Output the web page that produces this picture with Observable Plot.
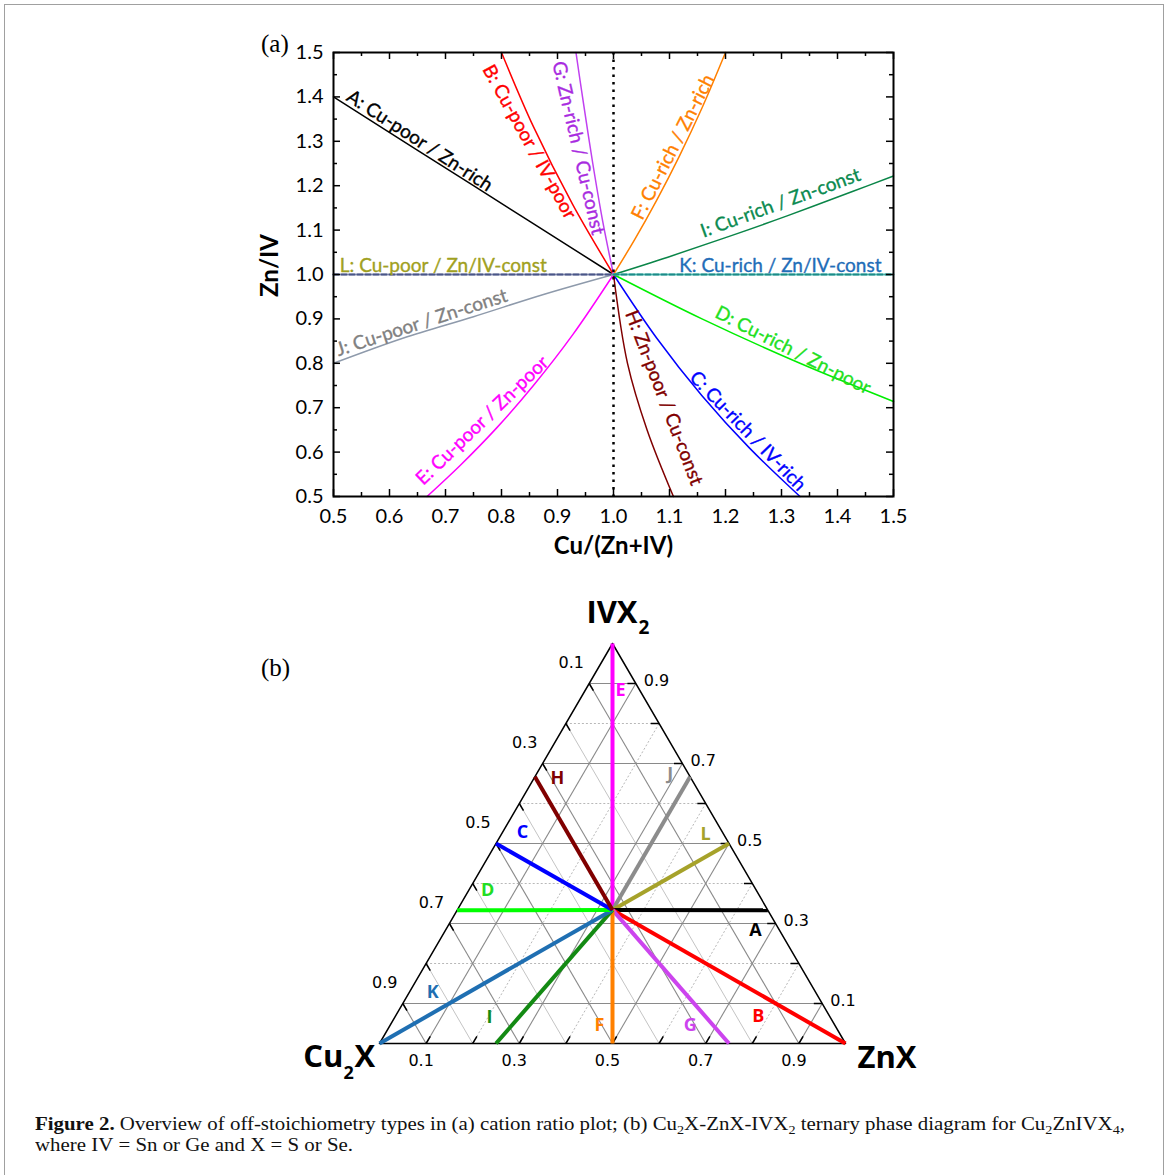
<!DOCTYPE html>
<html>
<head>
<meta charset="utf-8">
<script src="https://cdn.jsdelivr.net/npm/d3@7"></script>
<script src="https://cdn.jsdelivr.net/npm/@observablehq/plot@0.6"></script>
<style>
  html, body { margin: 0; padding: 0; background: #fff; }
  #page { position: relative; width: 1170px; height: 1175px; overflow: hidden; background: #fff; }
  #border { position: absolute; left: 4px; top: 4px; width: 1160px; height: 1200px; border: 1.5px solid #a0a0a0; box-sizing: border-box; }
  .abs { position: absolute; }
  .panel { font-family: "Liberation Serif", serif; font-size: 25px; line-height: 25px; color: #000; }
  .cap { font-family: "Liberation Serif", serif; font-size: 19px; line-height: 19px; color: #111; white-space: nowrap; transform-origin: 0 0; }
  .cap sub { font-size: 0.68em; vertical-align: -0.28em; line-height: 0; }
</style>
</head>
<body>
<div id="page">
  <div id="border"></div>
  <div id="plotA" class="abs" style="left:0;top:0"></div>
  <div id="plotB" class="abs" style="left:0;top:580px"></div>
  <div class="abs panel" style="left:261px;top:31px">(a)</div>
  <div class="abs panel" style="left:261px;top:655px">(b)</div>
  <div id="cap1" class="abs cap" style="left:35px;top:1114px"><b>Figure 2.</b> Overview of off-stoichiometry types in (a) cation ratio plot; (b) Cu<sub>2</sub>X-ZnX-IVX<sub>2</sub> ternary phase diagram for Cu<sub>2</sub>ZnIVX<sub>4</sub>,</div>
  <div id="cap2" class="abs cap" style="left:35px;top:1135px">where IV&nbsp;=&nbsp;Sn or Ge and X&nbsp;=&nbsp;S or Se.</div>
</div>
<script>
// ================= Panel (a): cation ratio plot data =================
const cuRatioTicks = [0.5, 0.6, 0.7, 0.8, 0.9, 1.0, 1.1, 1.2, 1.3, 1.4, 1.5];
const znRatioTicks = [0.5, 0.6, 0.7, 0.8, 0.9, 1.0, 1.1, 1.2, 1.3, 1.4, 1.5];
const minorTicks   = [0.55, 0.65, 0.75, 0.85, 0.95, 1.05, 1.15, 1.25, 1.35, 1.45];

const curveA_cu = [0.5, 0.75, 1.0];
const curveA_zn = [1.4, 1.2, 1.0];
const curveB_cu = [1.0, 0.927, 0.857, 0.8];
const curveB_zn = [1.0, 1.158, 1.333, 1.5];
const curveC_cu = [1.0, 1.077, 1.158, 1.243, 1.333];
const curveC_zn = [1.0, 0.857, 0.727, 0.609, 0.5];
const curveD_cu = [1.0, 1.158, 1.333, 1.5];
const curveD_zn = [1.0, 0.9, 0.8, 0.714];
const curveE_cu = [1.0, 0.927, 0.857, 0.791, 0.727, 0.667];
const curveE_zn = [1.0, 0.864, 0.75, 0.654, 0.571, 0.5];
const curveF_cu = [1.0, 1.038, 1.077, 1.117, 1.158, 1.2];
const curveF_zn = [1.0, 1.079, 1.167, 1.265, 1.375, 1.5];
const curveG_cu = [1.0, 0.981, 0.963, 0.945, 0.933];
const curveG_zn = [1.0, 1.118, 1.25, 1.397, 1.5];
const curveH_cu = [1.0, 1.025, 1.06, 1.107];
const curveH_zn = [1.0, 0.8, 0.65, 0.5];
const curveI_cu = [1.0, 1.097, 1.2, 1.31, 1.429, 1.5];
const curveI_zn = [1.0, 1.039, 1.083, 1.132, 1.188, 1.222];
const curveJ_cu = [0.5, 0.625, 0.75, 0.875, 1.0];
const curveJ_zn = [0.8, 0.857, 0.905, 0.955, 1.0];
const curveK_cu = [1.0, 1.5];
const curveK_zn = [1.0, 1.0];
const curveL_cu = [0.5, 1.0];
const curveL_zn = [1.0, 1.0];
const stoichCu = [1.0];

// curve labels, anchored next to their curves
const labelIds  = ["A", "B", "G", "F", "I", "K", "L", "J", "E", "H", "C", "D"];
const labelText = ["A: Cu-poor / Zn-rich", "B: Cu-poor / IV-poor", "G: Zn-rich / Cu-const", "F: Cu-rich / Zn-rich",
                   "I: Cu-rich / Zn-const", "K: Cu-rich / Zn/IV-const", "L: Cu-poor / Zn/IV-const", "J: Cu-poor / Zn-const",
                   "E: Cu-poor / Zn-poor", "H: Zn-poor / Cu-const", "C: Cu-rich / IV-rich", "D: Cu-rich / Zn-poor"];
const labelCu   = [0.645, 0.866, 0.955, 1.121, 1.307, 1.298, 0.696, 0.6625, 0.777, 1.075, 1.228, 1.313];
const labelZn   = [1.284, 1.310, 1.290, 1.278, 1.131, 1.0, 1.0, 0.872, 0.656, 0.715, 0.633, 0.811];

// ================= Panel (b): ternary diagram data =================
const ternIds     = ["A", "B", "C", "D", "E", "F", "G", "H", "I", "J", "K", "L"];
const ternEndCu2X = [0, 0, 0.5, 0.667, 0, 0.5, 0.25, 0.333, 0.75, 0, 1, 0];
const ternEndZnX  = [0.667, 1, 0, 0, 0, 0.5, 0.75, 0, 0.25, 0.333, 0, 0.5];
const ternEndIVX2 = [0.333, 0, 0.5, 0.333, 1, 0, 0, 0.667, 0, 0.667, 0, 0.5];
const ternCenter  = [0.333, 0.333, 0.334];
const ternGrid    = [0.1, 0.2, 0.3, 0.4, 0.5, 0.6, 0.7, 0.8, 0.9];
const ternTickLabels = [0.1, 0.3, 0.5, 0.7, 0.9];
const ternLabelX  = [0.807, 0.813, 0.307, 0.232, 0.517, 0.472, 0.667, 0.382, 0.236, 0.624, 0.114, 0.700];
const ternLabelY  = [0.2825, 0.0675, 0.5275, 0.3825, 0.8825, 0.045, 0.045, 0.6625, 0.065, 0.6725, 0.1275, 0.5225];

// ================= Styles =================
const lineColorA = {A:"#000000", B:"#ff0000", C:"#0000ff", D:"#00ee00", E:"#ff00ff", F:"#ff8000",
                    G:"#c040f0", H:"#800000", I:"#0a8548", J:"#8e9aab"};
const textColorA = {A:"#000000", B:"#ff0000", C:"#0000ff", D:"#1ee01e", E:"#ff00ff", F:"#ff8000",
                    G:"#a82be0", H:"#800000", I:"#0a8a50", J:"#808080", K:"#1f6db8", L:"#a0a020"};
const labelAngle = {A:33, B:61, G:77, F:-63, I:-20, K:0, L:0, J:-18, E:-44, H:69, C:46, D:27};
// +1: text lies on its "upper" side of the curve, -1: on its lower side
const labelSide  = {A:1, B:-1, G:-1, F:1, I:1, K:1, L:1, J:1, E:1, H:1, C:1, D:1};
const labelGap   = {A:3, B:3, G:3, F:3, I:8, K:3, L:3, J:3, E:3, H:3, C:3, D:3};
const ternColor = {A:"#000000", B:"#ff0000", C:"#0000ff", D:"#00ff00", E:"#ff00ff", F:"#ff8000",
                   G:"#cc44ee", H:"#800000", I:"#138a13", J:"#8c8c8c", K:"#1f6fb2", L:"#a6a22a"};
const ternTextColor = Object.assign({}, ternColor, {D:"#22dd22"});

// ================= Panel (a) =================
function rows(cu, zn) { return cu.map((c, k) => ({cu: c, zn: zn[k]})); }
const curves = {
  A: rows(curveA_cu, curveA_zn), B: rows(curveB_cu, curveB_zn), C: rows(curveC_cu, curveC_zn),
  D: rows(curveD_cu, curveD_zn), E: rows(curveE_cu, curveE_zn), F: rows(curveF_cu, curveF_zn),
  G: rows(curveG_cu, curveG_zn), H: rows(curveH_cu, curveH_zn), I: rows(curveI_cu, curveI_zn),
  J: rows(curveJ_cu, curveJ_zn)
};
const rowsK = rows(curveK_cu, curveK_zn);
const rowsL = rows(curveL_cu, curveL_zn);

const innerW = 560, innerH = 444;
const fmt1 = d => d.toFixed(1);
const curveMarks = Object.keys(curves).map(id =>
  Plot.line(curves[id], {x: "cu", y: "zn", stroke: lineColorA[id], strokeWidth: 1.5, curve: "catmull-rom"}));

const labelMarks = labelIds.map((id, k) => {
  const th = labelAngle[id] * Math.PI / 180, s = labelSide[id], g = labelGap[id];
  return Plot.text([{cu: labelCu[k], zn: labelZn[k], t: labelText[k]}], {
    x: "cu", y: "zn", text: "t", rotate: labelAngle[id],
    fill: textColorA[id], stroke: textColorA[id], strokeWidth: 0.35,
    fontSize: 19, textAnchor: "middle", lineAnchor: s > 0 ? "bottom" : "top",
    dx: s * g * Math.sin(th), dy: -s * g * Math.cos(th)
  });
});

const plotA = Plot.plot({
  width: 1170, height: 580,
  marginLeft: 333, marginRight: 277, marginTop: 52, marginBottom: 84,
  x: {domain: [0.5, 1.5]},
  y: {domain: [0.5, 1.5]},
  style: {fontFamily: "Lato, sans-serif", fontSize: "20px", color: "#000", background: "transparent", overflow: "visible", maxWidth: "none"},
  marks: [
    ...curveMarks,
    Plot.line(rowsL, {x: "cu", y: "zn", stroke: "#a3aac6", strokeWidth: 2.2}),
    Plot.line(rowsL, {x: "cu", y: "zn", stroke: "#4a5688", strokeWidth: 2.2, strokeDasharray: "5 3"}),
    Plot.line(rowsK, {x: "cu", y: "zn", stroke: "#6fd0c4", strokeWidth: 2.2}),
    Plot.line(rowsK, {x: "cu", y: "zn", stroke: "#1d8a88", strokeWidth: 2.2, strokeDasharray: "5 3"}),
    Plot.ruleX(stoichCu, {stroke: "#000", strokeWidth: 2.5, strokeDasharray: "2.5 5"}),
    Plot.frame({stroke: "#000", strokeWidth: 2}),
    // inward ticks on all four sides
    Plot.ruleX(cuRatioTicks, {insetTop: innerH - 7, stroke: "#000", strokeWidth: 1.5}),
    Plot.ruleX(cuRatioTicks, {insetBottom: innerH - 7, stroke: "#000", strokeWidth: 1.5}),
    Plot.ruleX(minorTicks, {insetTop: innerH - 4, stroke: "#000", strokeWidth: 1.5}),
    Plot.ruleX(minorTicks, {insetBottom: innerH - 4, stroke: "#000", strokeWidth: 1.5}),
    Plot.ruleY(znRatioTicks, {insetRight: innerW - 7, stroke: "#000", strokeWidth: 1.5}),
    Plot.ruleY(znRatioTicks, {insetLeft: innerW - 7, stroke: "#000", strokeWidth: 1.5}),
    Plot.ruleY(minorTicks, {insetRight: innerW - 4, stroke: "#000", strokeWidth: 1.5}),
    Plot.ruleY(minorTicks, {insetLeft: innerW - 4, stroke: "#000", strokeWidth: 1.5}),
    Plot.axisX({ticks: cuRatioTicks, tickSize: 0, tickPadding: 12, tickFormat: fmt1, label: null}),
    Plot.axisY({ticks: znRatioTicks, tickSize: 0, tickPadding: 10, tickFormat: fmt1, label: null}),
    ...labelMarks,
    Plot.text(["Cu/(Zn+IV)"], {text: d => d, frameAnchor: "bottom", dy: 50, textAnchor: "middle", lineAnchor: "middle", fontWeight: "bold", fontSize: 24}),
    Plot.text(["Zn/IV"], {text: d => d, frameAnchor: "left", dx: -63, dy: -9, rotate: -90, textAnchor: "middle", lineAnchor: "middle", fontWeight: "bold", fontSize: 24})
  ]
});
document.getElementById("plotA").appendChild(plotA);

// ================= Panel (b) =================
// ternary (Cu2X, ZnX, IVX2) -> planar coordinates of the triangle
const toCart = (c, z, i) => ({X: z + i / 2, Y: i});
const seg = (p, q, extra) => Object.assign({x1: p.X, y1: p.Y, x2: q.X, y2: q.Y}, extra);

const gridDark = [], gridLight = [], gridDot = [], tickSegs = [];
const tl = 0.018;
ternGrid.forEach((v, k) => {
  const odd = (k % 2 === 0);
  const cLine = seg(toCart(v, 0, 1 - v), toCart(v, 1 - v, 0));
  const zLine = seg(toCart(1 - v, v, 0), toCart(0, v, 1 - v));
  const iLine = seg(toCart(1 - v, 0, v), toCart(0, 1 - v, v));
  if (odd) { gridDark.push(cLine, zLine, iLine); }
  else { gridLight.push(cLine); gridDot.push(zLine, iLine); }
  tickSegs.push(seg(toCart(v, 0, 1 - v), toCart(v, tl, 1 - v - tl)));   // Cu2X edge
  tickSegs.push(seg(toCart(0, 1 - v, v), toCart(tl, 1 - v - tl, v)));   // IVX2 edge
  tickSegs.push(seg(toCart(1 - v, v, 0), toCart(1 - v - tl, v, tl)));   // ZnX edge
});
const outline = [toCart(1, 0, 0), toCart(0, 1, 0), toCart(0, 0, 1), toCart(1, 0, 0)];
const ctr = toCart(ternCenter[0], ternCenter[1], ternCenter[2]);
const drawOrder = ["E", "J", "L", "A", "B", "G", "F", "I", "K", "D", "C", "H"];
const ternLines = drawOrder.map(id => {
  const k = ternIds.indexOf(id);
  return seg(ctr, toCart(ternEndCu2X[k], ternEndZnX[k], ternEndIVX2[k]), {color: ternColor[id]});
});
const ternLetters = ternIds.map((id, k) => ({id, X: ternLabelX[k], Y: ternLabelY[k], color: ternTextColor[id]}));
const leftLab = ternTickLabels.map(v => Object.assign(toCart(v, 0, 1 - v), {t: fmt1(v)}));
const rightLab = ternTickLabels.map(v => Object.assign(toCart(0, 1 - v, v), {t: fmt1(v)}));
const baseLab = ternTickLabels.map(v => Object.assign(toCart(1 - v, v, 0), {t: fmt1(v)}));
const apex = [toCart(0, 0, 1)], cuCorner = [toCart(1, 0, 0)], znCorner = [toCart(0, 1, 0)];
const numFont = {fontFamily: "DejaVu Sans, sans-serif", fontSize: 16, fill: "#000"};
const boldFont = {fontFamily: "Open Sans, sans-serif", fontWeight: "bold", fill: "#000"};

const plotB = Plot.plot({
  width: 1170, height: 500,
  marginLeft: 379, marginRight: 325, marginTop: 63, marginBottom: 37,
  x: {domain: [0, 1], axis: null},
  y: {domain: [0, 1], axis: null},
  color: {type: "identity"},
  style: {fontFamily: "Open Sans, sans-serif", fontSize: "16px", background: "transparent", overflow: "visible", maxWidth: "none"},
  marks: [
    Plot.link(gridDot, {x1: "x1", y1: "y1", x2: "x2", y2: "y2", stroke: "#b8b8b8", strokeWidth: 1, strokeDasharray: "2 2"}),
    Plot.link(gridLight, {x1: "x1", y1: "y1", x2: "x2", y2: "y2", stroke: "#c4c4c4", strokeWidth: 1}),
    Plot.link(gridDark, {x1: "x1", y1: "y1", x2: "x2", y2: "y2", stroke: "#8a8a8a", strokeWidth: 1.1}),
    Plot.link(tickSegs, {x1: "x1", y1: "y1", x2: "x2", y2: "y2", stroke: "#000", strokeWidth: 1.5}),
    Plot.line(outline, {x: "X", y: "Y", stroke: "#000", strokeWidth: 1.5}),
    Plot.link(ternLines, {x1: "x1", y1: "y1", x2: "x2", y2: "y2", stroke: "color", strokeWidth: 4}),
    Plot.text(ternLetters, {x: "X", y: "Y", text: "id", fill: "color", fontFamily: "Open Sans, sans-serif", fontWeight: "bold", fontSize: 18, lineAnchor: "middle"}),
    Plot.text(leftLab, {x: "X", y: "Y", text: "t", dx: -18, dy: -21, lineAnchor: "middle", ...numFont}),
    Plot.text(rightLab, {x: "X", y: "Y", text: "t", dx: 8, dy: -3, textAnchor: "start", lineAnchor: "middle", ...numFont}),
    Plot.text(baseLab, {x: "X", y: "Y", text: "t", dx: -5, dy: 17, lineAnchor: "middle", ...numFont}),
    Plot.text(apex, {x: "X", y: "Y", text: () => "IVX", dx: 25, dy: -21, textAnchor: "end", lineAnchor: "bottom", fontSize: 31, ...boldFont}),
    Plot.text(apex, {x: "X", y: "Y", text: () => "2", dx: 26, dy: -10, textAnchor: "start", lineAnchor: "bottom", fontSize: 19, ...boldFont}),
    Plot.text(cuCorner, {x: "X", y: "Y", text: () => "Cu", dx: -36, dy: 23, textAnchor: "end", lineAnchor: "bottom", fontSize: 31, ...boldFont}),
    Plot.text(cuCorner, {x: "X", y: "Y", text: () => "2", dx: -36, dy: 35, textAnchor: "start", lineAnchor: "bottom", fontSize: 18, ...boldFont}),
    Plot.text(cuCorner, {x: "X", y: "Y", text: () => "X", dx: -25, dy: 23, textAnchor: "start", lineAnchor: "bottom", fontSize: 31, ...boldFont}),
    Plot.text(znCorner, {x: "X", y: "Y", text: () => "ZnX", dx: 12, dy: 24, textAnchor: "start", lineAnchor: "bottom", fontSize: 31, ...boldFont})
  ]
});
document.getElementById("plotB").appendChild(plotB);

// fit caption width to the reference layout
const c1 = document.getElementById("cap1"), c2 = document.getElementById("cap2");
const w1 = c1.getBoundingClientRect().width;
const s = 1090 / w1;
c1.style.transform = `scaleX(${s})`;
c2.style.transform = `scaleX(${s})`;
</script>
</body>
</html>
